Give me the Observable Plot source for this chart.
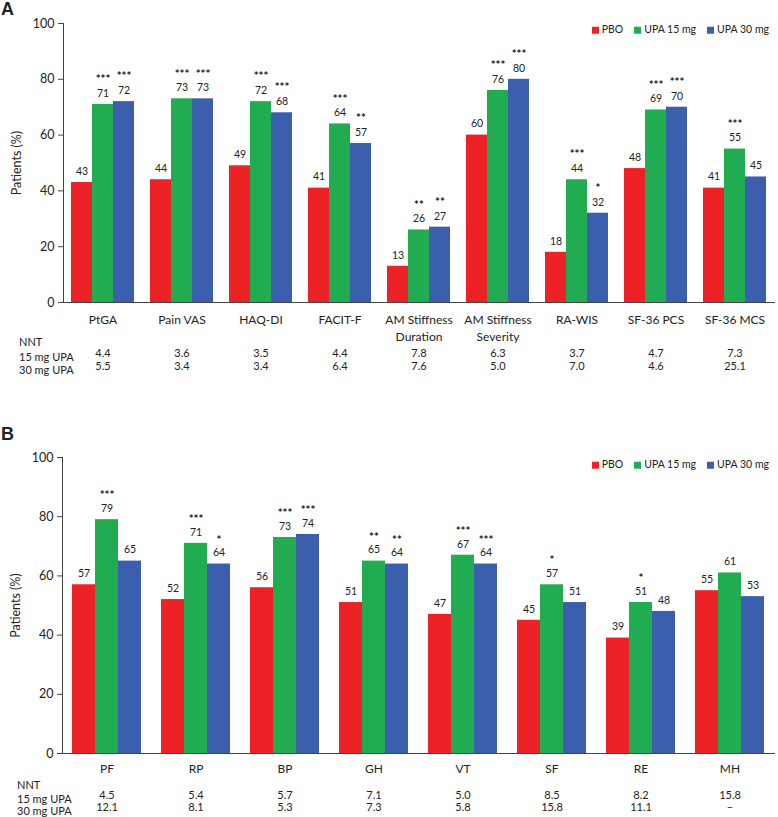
<!DOCTYPE html>
<html><head><meta charset="utf-8">
<script src="https://cdn.jsdelivr.net/npm/d3@7"></script>
<script src="https://cdn.jsdelivr.net/npm/@observablehq/plot@0.6"></script>
<style>
body{margin:0;background:#fff;}
#root{position:relative;width:778px;height:817px;font-family:Lato, sans-serif;color:#222;overflow:hidden}
.panel{position:absolute;left:0}
.letter{position:absolute;font-family:"Liberation Sans",Arial,sans-serif;font-weight:bold;font-size:18px;line-height:1}
.legend{position:absolute;right:9px;display:flex;gap:11px;font-size:10.5px;align-items:center;white-space:nowrap;line-height:1;transform:translateY(-50%)}
.sw{display:inline-block;width:7px;height:7px;margin-right:3px;vertical-align:middle}
.rowlab{position:absolute;font-size:11px;line-height:1;white-space:nowrap;transform:translateY(-50%)}
</style></head>
<body><div id="root"></div>
<script>
// ---- shared ----
const series = ["PBO", "UPA 15 mg", "UPA 30 mg"];
const colors = ["#EC2227", "#22AC52", "#3C5FAD"];
const yTicks = [0, 20, 40, 60, 80, 100];
const rowLabels = ["NNT", "15 mg UPA", "30 mg UPA"];

// ---- panel A ----
const catsA = ["PtGA", "Pain VAS", "HAQ-DI", "FACIT-F", "AM Stiffness\nDuration", "AM Stiffness\nSeverity", "RA-WIS", "SF-36 PCS", "SF-36 MCS"];
const pboA = [43, 44, 49, 41, 13, 60, 18, 48, 41];
const upa15A = [71, 73, 72, 64, 26, 76, 44, 69, 55];
const upa30A = [72, 73, 68, 57, 27, 80, 32, 70, 45];
const sig15A = ["***", "***", "***", "***", "**", "***", "***", "***", "***"];
const sig30A = ["***", "***", "***", "**", "**", "***", "*", "***", ""];
const nnt15A = ["4.4", "3.6", "3.5", "4.4", "7.8", "6.3", "3.7", "4.7", "7.3"];
const nnt30A = ["5.5", "3.4", "3.4", "6.4", "7.6", "5.0", "7.0", "4.6", "25.1"];

// ---- panel B ----
const catsB = ["PF", "RP", "BP", "GH", "VT", "SF", "RE", "MH"];
const pboB = [57, 52, 56, 51, 47, 45, 39, 55];
const upa15B = [79, 71, 73, 65, 67, 57, 51, 61];
const upa30B = [65, 64, 74, 64, 64, 51, 48, 53];
const sig15B = ["***", "***", "***", "**", "***", "*", "*", ""];
const sig30B = ["", "*", "***", "**", "***", "", "", ""];
const nnt15B = ["4.5", "5.4", "5.7", "7.1", "5.0", "8.5", "8.2", "15.8"];
const nnt30B = ["12.1", "8.1", "5.3", "7.3", "5.8", "15.8", "11.1", "–"];

function buildRows(cats, pbo, u15, u30, s15, s30) {
  const rows = [];
  cats.forEach((c, i) => {
    rows.push({cat: c, series: series[0], value: pbo[i], sig: ""});
    rows.push({cat: c, series: series[1], value: u15[i], sig: s15[i]});
    rows.push({cat: c, series: series[2], value: u30[i], sig: s30[i]});
  });
  return rows;
}

function makePanel(o) {
  const rows = buildRows(o.cats, o.pbo, o.u15, o.u30, o.s15, o.s30);
  return Plot.plot({
    width: 778, height: o.height,
    marginTop: o.marginTop, marginBottom: o.marginBottom, marginLeft: 61, marginRight: 3,
    style: {fontFamily: "Lato, sans-serif", color: "#222", background: "transparent", overflow: "visible"},
    fx: {domain: o.cats, padding: 0, axis: null, label: null},
    x: {domain: series, paddingInner: 0, paddingOuter: 0.375, axis: null},
    y: {domain: [0, 100], axis: null},
    color: {domain: series, range: colors},
    marks: [
      Plot.barY(rows, {fx: "cat", x: "series", y: "value", fill: "series"}),
      Plot.axisY({ticks: yTicks, tickSize: 5, tickPadding: 4, fontSize: 12.5, stroke: "#444",
        label: "Patients (%)", labelAnchor: "center", labelArrow: "none", labelOffset: 51}),
      Plot.frame({anchor: "bottom", stroke: "#444"}),
      Plot.frame({anchor: "left", stroke: "#444", facetAnchor: "left"}),
      Plot.text(rows, {fx: "cat", x: "series", y: "value", text: d => String(d.value), dy: -11, fontSize: 10.5, fill: "#222"}),
      Plot.text(rows.filter(d => d.sig), {fx: "cat", x: "series", y: "value", text: "sig", dy: o.sigDy, fontSize: 11.5, fontWeight: "bold", fill: "#222"}),
      Plot.text(o.cats, {fx: d => d, text: d => d, frameAnchor: "bottom", lineAnchor: "top", dy: o.catDy, lineHeight: 1.4, fontSize: 12, fill: "#222"}),
      Plot.text(o.cats, {fx: d => d, text: (d, i) => o.n15[i], frameAnchor: "bottom", dy: o.n15Dy, fontSize: 11, fill: "#222"}),
      Plot.text(o.cats, {fx: d => d, text: (d, i) => o.n30[i], frameAnchor: "bottom", dy: o.n30Dy, fontSize: 11, fill: "#222"})
    ]
  });
}

const root = document.getElementById("root");

function addPanel(top, plot) {
  const d = document.createElement("div");
  d.className = "panel";
  d.style.top = top + "px";
  d.appendChild(plot);
  root.appendChild(d);
}
function addLetter(txt, top) {
  const d = document.createElement("div");
  d.className = "letter"; d.textContent = txt;
  d.style.left = "1px"; d.style.top = top + "px";
  root.appendChild(d);
}
function addLegend(cy) {
  const d = document.createElement("div");
  d.className = "legend"; d.style.top = cy + "px";
  series.forEach((s, i) => {
    const it = document.createElement("span");
    const sw = document.createElement("span");
    sw.className = "sw"; sw.style.background = colors[i];
    it.appendChild(sw);
    it.appendChild(document.createTextNode(s));
    d.appendChild(it);
  });
  root.appendChild(d);
}
function addRowLabels(left, ys) {
  rowLabels.forEach((t, i) => {
    const d = document.createElement("div");
    d.className = "rowlab"; d.textContent = t;
    d.style.left = left + "px"; d.style.top = ys[i] + "px";
    root.appendChild(d);
  });
}

addPanel(0, makePanel({cats: catsA, pbo: pboA, u15: upa15A, u30: upa30A, s15: sig15A, s30: sig30A,
  n15: nnt15A, n30: nnt30A, height: 400, marginTop: 23, marginBottom: 98,
  sigDy: -25, catDy: 10, n15Dy: 54, n30Dy: 67}));
addPanel(400, makePanel({cats: catsB, pbo: pboB, u15: upa15B, u30: upa30B, s15: sig15B, s30: sig30B,
  n15: nnt15B, n30: nnt30B, height: 417, marginTop: 57, marginBottom: 64,
  sigDy: -24, catDy: 8, n15Dy: 45, n30Dy: 57}));

addLetter("A", 0);
addLetter("B", 425);
addLegend(29);
addLegend(464);
addRowLabels(19, [341, 356, 369]);
addRowLabels(17, [784, 798, 810]);
</script>
</body></html>
